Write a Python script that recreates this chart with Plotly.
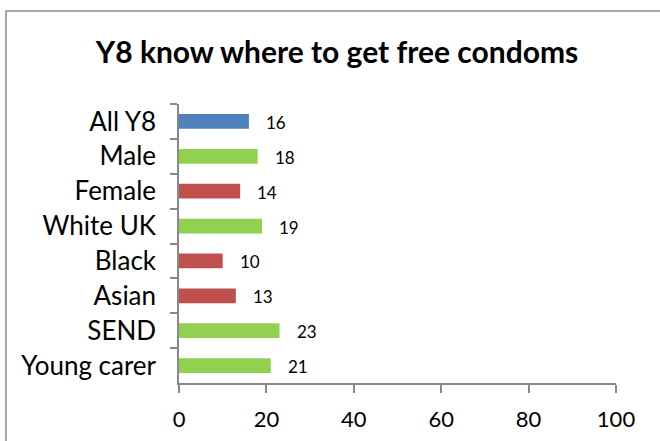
import plotly.graph_objects as go

categories = ["All Y8", "Male", "Female", "White UK", "Black", "Asian", "SEND", "Young carer"]
values = [16, 18, 14, 19, 10, 13, 23, 21]
colors = ["#4F81BD", "#92D050", "#C0504D", "#92D050", "#C0504D", "#C0504D", "#92D050", "#92D050"]
x_ticks = [0, 20, 40, 60, 80, 100]
title = "Y8 know where to get free condoms"

FONT = "Lato, 'Open Sans', sans-serif"

fig = go.Figure(go.Bar(
    x=values, y=categories, orientation="h",
    marker=dict(color=colors, line=dict(width=0)),
    hoverinfo="x+y",
))

for c, v in zip(categories, values):
    fig.add_annotation(x=v, y=c, text=str(v), showarrow=False, xanchor="left",
                       xshift=15, yshift=-1, font=dict(family=FONT, size=17, color="#000"))

L, R, T, B = 179, 44, 104, 58
W, H = 660, 441
pw, ph = W - L - R, H - T - B

def px(x):
    return (x - L) / pw

def py(y):
    return (H - B - y) / ph

fig.add_shape(type="rect", xref="paper", yref="paper",
              x0=px(6), x1=px(680), y0=py(11), y1=py(470),
              line=dict(color="#8c8c8c", width=1.5), fillcolor="rgba(0,0,0,0)", layer="below")

fig.update_layout(
    width=W, height=H,
    margin=dict(l=L, r=R, t=T, b=B, pad=0, autoexpand=False),
    paper_bgcolor="white", plot_bgcolor="white",
    bargap=0.58,
    showlegend=False,
    title=dict(text="<b>" + title + "</b>", x=337 / W, xanchor="center", y=1 - 52 / H, yanchor="middle",
               font=dict(family=FONT, size=30, color="#000")),
    font=dict(family=FONT, color="#000"),
)
fig.update_xaxes(range=[0, 100], tickvals=x_ticks, ticktext=[str(t) for t in x_ticks],
                 showgrid=False, zeroline=False, showline=True, linecolor="#888", linewidth=1.5,
                 ticks="outside", ticklen=8, tickcolor="#888", tickwidth=1.5, automargin=False,
                 tickfont=dict(family=FONT, size=22, color="#000"), ticklabelstandoff=8)
fig.update_yaxes(categoryorder="array", categoryarray=categories, autorange="reversed",
                 showgrid=False, zeroline=False, showline=True, linecolor="#888", linewidth=1.5,
                 ticks="outside", ticklen=7, tickcolor="#888", tickwidth=1.5, tickson="boundaries",
                 automargin=False,
                 tickfont=dict(family=FONT, size=26, color="#000"), ticklabelstandoff=16)

fig.write_html("out.html", config={"displayModeBar": False},
               post_script="document.body.style.margin='0';")
